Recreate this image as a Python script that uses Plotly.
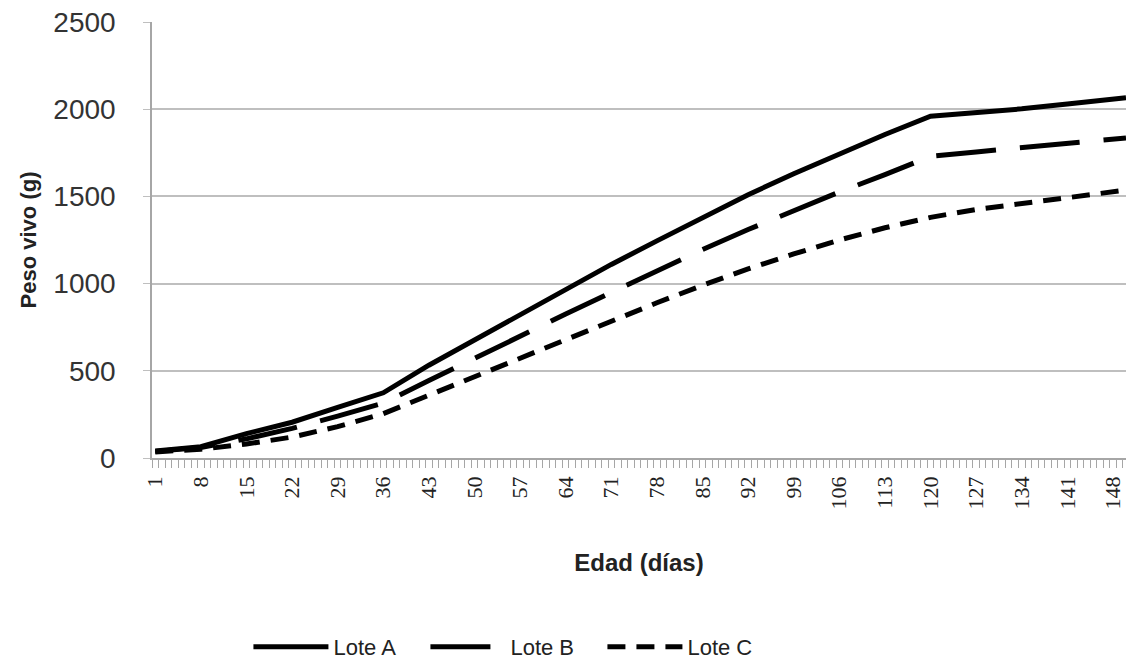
import plotly.graph_objects as go

days = [1, 8, 15, 22, 29, 36, 43, 50, 57, 64, 71, 78, 85, 92, 99, 106, 113, 120, 127, 134, 141, 148, 150]
lote_a = [40, 65, 140, 205, 290, 374, 532, 678, 824, 970, 1110, 1245, 1380, 1510, 1630, 1745, 1855, 1960, 1978, 2002, 2030, 2055, 2065]
lote_b = [38, 60, 110, 170, 240, 315, 444, 573, 702, 825, 950, 1075, 1195, 1310, 1420, 1525, 1625, 1730, 1755, 1780, 1805, 1828, 1835]
lote_c = [35, 50, 80, 120, 180, 254, 360, 466, 572, 685, 790, 890, 990, 1085, 1170, 1250, 1320, 1380, 1425, 1460, 1495, 1528, 1536]
tick_days = list(range(1, 149, 7))
y_ticks = [0, 500, 1000, 1500, 2000, 2500]

fig = go.Figure()
styles = [("Lote A", lote_a, "solid"), ("Lote B", lote_b, "60px,24px"), ("Lote C", lote_c, "18px,11px")]
for name, vals, dash in styles:
    fig.add_trace(go.Scatter(x=days, y=vals, mode="lines", name=name,
                             line=dict(color="black", width=5, dash=dash)))

fig.update_layout(
    width=1126, height=668,
    margin=dict(l=152, r=0, t=22, b=210),
    plot_bgcolor="white", paper_bgcolor="white",
    font=dict(family="Liberation Sans", color="#222"),
    showlegend=True,
    legend=dict(orientation="h", x=0.099, xanchor="left", y=-0.435, yanchor="middle",
                font=dict(size=22, color="#222"), entrywidth=87, entrywidthmode="pixels",
                itemwidth=75, traceorder="normal"),
)
fig.update_xaxes(
    automargin=False, ticklabeloverflow="allow",
    range=[0.5, 150.0], tickmode="array", tickvals=tick_days, ticktext=[str(d) for d in tick_days],
    tickangle=-90, tickfont=dict(family="Liberation Serif", size=22, color="#222"),
    ticks="", ticklabelstandoff=8,
    minor=dict(ticks="outside", tick0=0.5, dtick=1, ticklen=8, tickcolor="#a6a6a6", tickwidth=1),
    showline=True, linecolor="#a6a6a6", linewidth=1.5, showgrid=False, zeroline=False,
    title=dict(text="<b>Edad (días)</b>", font=dict(size=24, color="#222"), standoff=46),
)
fig.update_yaxes(
    automargin=False,
    range=[0, 2500], tickvals=y_ticks, tickfont=dict(size=28, color="#333"),
    ticks="outside", ticklen=7, tickcolor="#bfbfbf", ticklabelstandoff=22,
    showline=True, linecolor="#a6a6a6", linewidth=1.5,
    showgrid=True, gridcolor="#bfbfbf", gridwidth=1.5, zeroline=False,
    title=dict(text="<b>Peso vivo (g)</b>", font=dict(size=22, color="#222"), standoff=11),
)
fig.write_html("out.html", config={"displayModeBar": False},
               post_script="document.body.style.margin='0';")
